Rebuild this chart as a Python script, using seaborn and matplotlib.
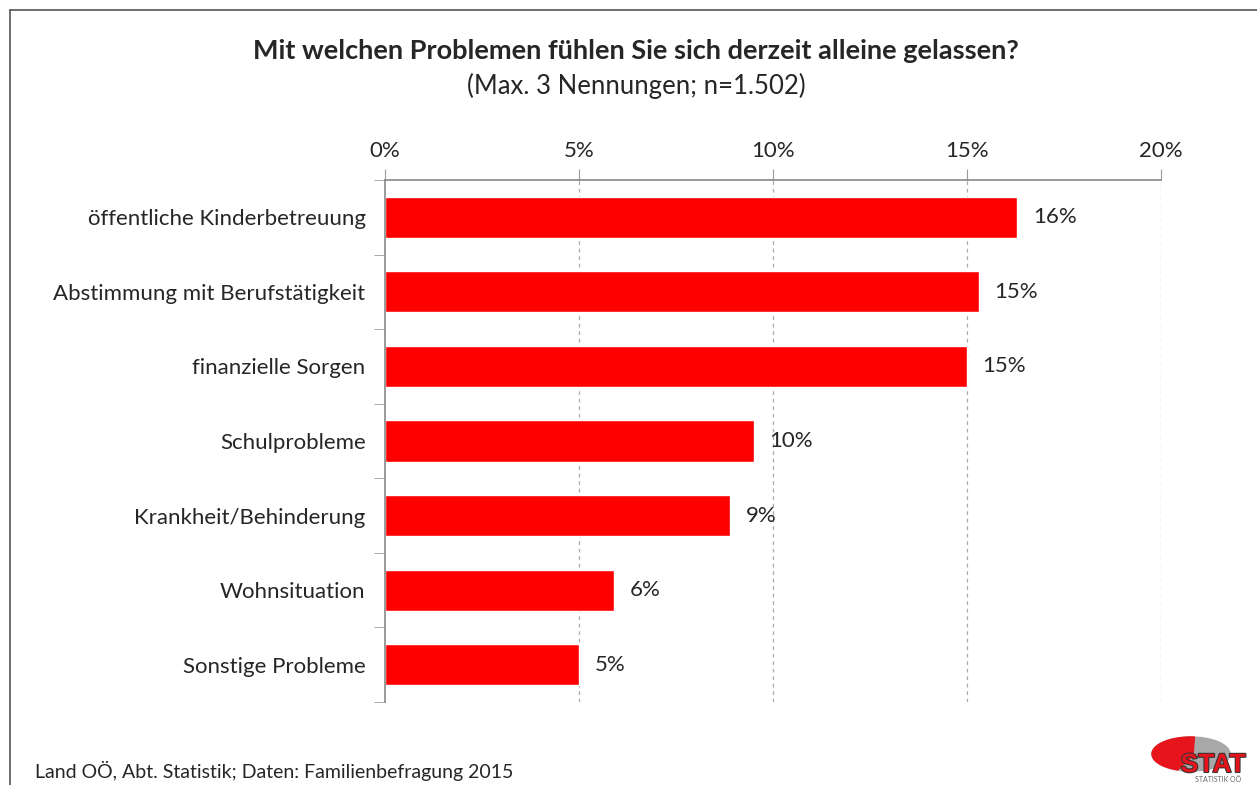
import matplotlib
matplotlib.use("Agg")
import matplotlib.pyplot as plt
import matplotlib.patches as mpatches
import matplotlib.patheffects as pe
from matplotlib.lines import Line2D
import numpy as np
import pandas as pd
import seaborn as sns

# Daten aus der Grafik
categories = [
    "öffentliche Kinderbetreuung",
    "Abstimmung mit Berufstätigkeit",
    "finanzielle Sorgen",
    "Schulprobleme",
    "Krankheit/Behinderung",
    "Wohnsituation",
    "Sonstige Probleme",
]
values = [16.3, 15.3, 15.0, 9.5, 8.9, 5.9, 5.0]
value_labels = ["16%", "15%", "15%", "10%", "9%", "6%", "5%"]
x_ticks = [0, 5, 10, 15, 20]

sns.set_style("white")
plt.rcParams["font.family"] = ["Lato", "DejaVu Sans"]

df = pd.DataFrame({"Problem": categories, "Anteil": values})

fig = plt.figure(figsize=(12.57, 7.85), dpi=100)
ax = fig.add_axes([385 / 1257, 1 - 702 / 785, (1161 - 385) / 1257, (702 - 180) / 785])

sns.barplot(data=df, x="Anteil", y="Problem", orient="h", color="#ff0000",
            saturation=1, width=0.55, ax=ax)

ax.set_xlim(0, 20)
ax.set_ylim(len(categories) - 0.5, -0.5)
ax.set_xlabel("")
ax.set_ylabel("")

# x-Achse oben
ax.xaxis.tick_top()
ax.set_xticks(x_ticks)
ax.set_xticklabels([f"{t}%" for t in x_ticks], fontsize=16)
ax.tick_params(axis="x", which="major", direction="out", length=8, color="#999999",
               pad=6, top=True, bottom=False)
for t in x_ticks[1:]:
    ax.axvline(t, color="#aaaaaa", linestyle=(0, (3, 3)), linewidth=0.9, zorder=0)

# y-Achse: Striche zwischen den Kategorien
ax.set_yticks(range(len(categories)))
ax.set_yticklabels(categories, fontsize=16)
ax.set_yticks([i - 0.5 for i in range(len(categories) + 1)], minor=True)
ax.tick_params(axis="y", which="major", length=0, pad=14)
ax.tick_params(axis="y", which="minor", direction="out", length=8, color="#999999",
               left=True)

for side in ["right", "bottom"]:
    ax.spines[side].set_visible(False)
for side in ["top", "left"]:
    ax.spines[side].set_color("#888888")
    ax.spines[side].set_linewidth(1.2)

# Datenbeschriftungen
for i, (v, lab) in enumerate(zip(values, value_labels)):
    ax.text(v + 0.4, i, lab, va="center", ha="left", fontsize=16)

# Titel
fig.text(0.506, 1 - 51 / 785, "Mit welchen Problemen fühlen Sie sich derzeit alleine gelassen?",
         ha="center", va="center", fontsize=19.5, fontweight="bold")
fig.text(0.506, 1 - 86 / 785, "(Max. 3 Nennungen; n=1.502)",
         ha="center", va="center", fontsize=18.5)

# Quelle
fig.text(35 / 1257, 1 - 771 / 785, "Land OÖ, Abt. Statistik; Daten: Familienbefragung 2015",
         ha="left", va="center", fontsize=14)

# Rahmen
fig.add_artist(Line2D([10 / 1257, 1], [1 - 10 / 785, 1 - 10 / 785],
                      transform=fig.transFigure, color="#555555", linewidth=1.2))
fig.add_artist(Line2D([10 / 1257, 10 / 1257], [0, 1 - 10 / 785],
                      transform=fig.transFigure, color="#555555", linewidth=1.2))

# Logo (Pixelkoordinaten innerhalb einer kleinen Achse)
lax = fig.add_axes([1150 / 1257, 1 - 783 / 785, 100 / 1257, 50 / 785])
lax.set_xlim(0, 100)
lax.set_ylim(0, 50)
lax.axis("off")
cx, cy, rx, ry = 41, 29, 39, 17
lax.add_patch(mpatches.Ellipse((cx, cy), 2 * rx, 2 * ry, color="#a8a8a8"))
ang = np.radians(np.linspace(85, 250, 60))
pts = np.column_stack([cx + rx * np.cos(ang), cy + ry * np.sin(ang)])
pts = np.vstack([[cx + 2, cy - 2], pts])
lax.add_patch(mpatches.Polygon(pts, closed=True, color="#e8141c"))
lax.text(63, 18, "STAT", ha="center", va="center", fontsize=19, fontweight="bold",
         color="#e8141c", family=["Liberation Sans", "DejaVu Sans"],
         path_effects=[pe.withStroke(linewidth=1.5, foreground="#333333")])
lax.text(68, 3, "STATISTIK OÖ", ha="center", va="center", fontsize=5, color="#666666")

fig.savefig("out.png", dpi=100)
